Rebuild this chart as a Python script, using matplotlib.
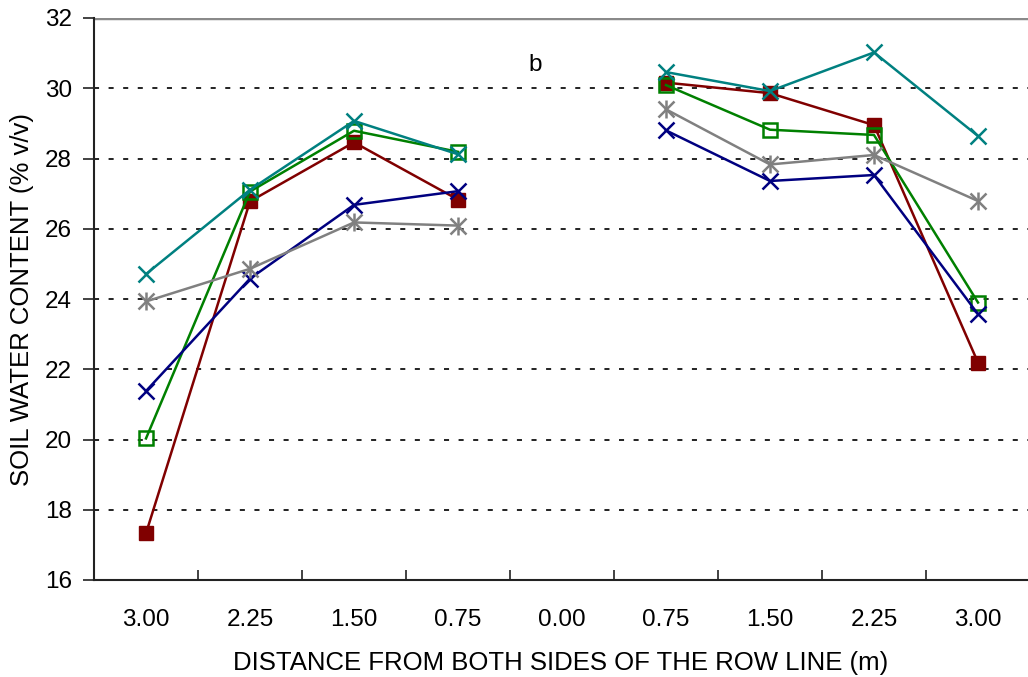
import matplotlib
matplotlib.use("Agg")
import matplotlib.pyplot as plt

categories = ["3.00", "2.25", "1.50", "0.75", "0.00", "0.75", "1.50", "2.25", "3.00"]

# None = no value at 0.00
red_sq   = [17.33, 26.78, 28.46, 26.83, None, 30.16, 29.86, 28.95, 22.19]
green_sq = [20.03, 27.06, 28.79, 28.19, None, 30.09, 28.82, 28.67, 23.90]
blue_x   = [21.38, 24.58, 26.68, 27.07, None, 28.80, 27.36, 27.53, 23.57]
gray_ast = [23.93, 24.86, 26.18, 26.09, None, 29.40, 27.83, 28.10, 26.79]
teal_x   = [24.71, 27.11, 29.07, 28.12, None, 30.46, 29.92, 31.02, 28.64]

yticks = [16, 18, 20, 22, 24, 26, 28, 30, 32]

plt.rcParams['font.family'] = ['Liberation Sans', 'DejaVu Sans']
FS = 17.5
FL = 18.5

fig = plt.figure(figsize=(10.28, 6.77), dpi=100)
ax = fig.add_axes([94/1028, 97/677, 1 - 94/1028, (580-18)/677])

def split(vals):
    return (list(range(4)), vals[:4]), (list(range(5, 9)), vals[5:])

series = [
    (red_sq, "#800000", "s", dict(markerfacecolor="#800000", markersize=10)),
    (green_sq, "#008000", "s", dict(markerfacecolor="none", markersize=10, markeredgewidth=1.8)),
    (blue_x, "#000080", "x", dict(markersize=11, markeredgewidth=1.8)),
    (gray_ast, "#808080", "x", dict(markersize=11, markeredgewidth=1.8)),
    (teal_x, "#008080", "x", dict(markersize=11, markeredgewidth=1.8)),
]
for k, (vals, col, mk, kw) in enumerate(series):
    for xs, ys in split(vals):
        ax.plot(xs, ys, color=col, marker=mk, lw=1.8, markeredgecolor=col,
                zorder=3 + k, clip_on=False, **kw)
        if vals is gray_ast:
            ax.plot(xs, ys, linestyle='none', marker='|', color=col,
                    markersize=13, markeredgewidth=1.8, zorder=3 + k, clip_on=False)

ax.set_xlim(-0.5, (1028 - 146) / 104)
ax.set_ylim(16, 32)
ax.set_yticks(yticks)
ax.set_yticklabels([str(v) for v in yticks], fontsize=FS)
ax.set_xticks(range(9))
ax.set_xticklabels(categories, fontsize=FS)
ax.set_xticks([i + 0.5 for i in range(-1, 8)], minor=True)
ax.tick_params(axis='x', which='major', length=0, pad=21)
ax.tick_params(axis='x', which='minor', direction='in', length=7, width=1.2, color='#222222')
ax.tick_params(axis='y', which='major', direction='out', length=8, width=1.2, color='#222222', pad=8)

for s in ['top', 'right']:
    ax.spines[s].set_visible(False)
for s in ['left', 'bottom']:
    ax.spines[s].set_color('#222222')
    ax.spines[s].set_linewidth(1.5)

ax.axhline(32, color='#8a8a8a', lw=3.2, zorder=1)
ax.grid(axis='y', color='#222222', lw=1.4, linestyle=(0, (2.6, 4.9)), zorder=1.5)
ax.set_axisbelow(True)

ax.set_ylabel("SOIL WATER CONTENT (% v/v)", fontsize=FL, labelpad=8)
ax.set_xlabel("DISTANCE FROM BOTH SIDES OF THE ROW LINE (m)", fontsize=FL, labelpad=14)

ax.text(3.74, 30.65, "b", fontsize=FS, ha='center', va='center')

fig.savefig("out.png", dpi=100)
